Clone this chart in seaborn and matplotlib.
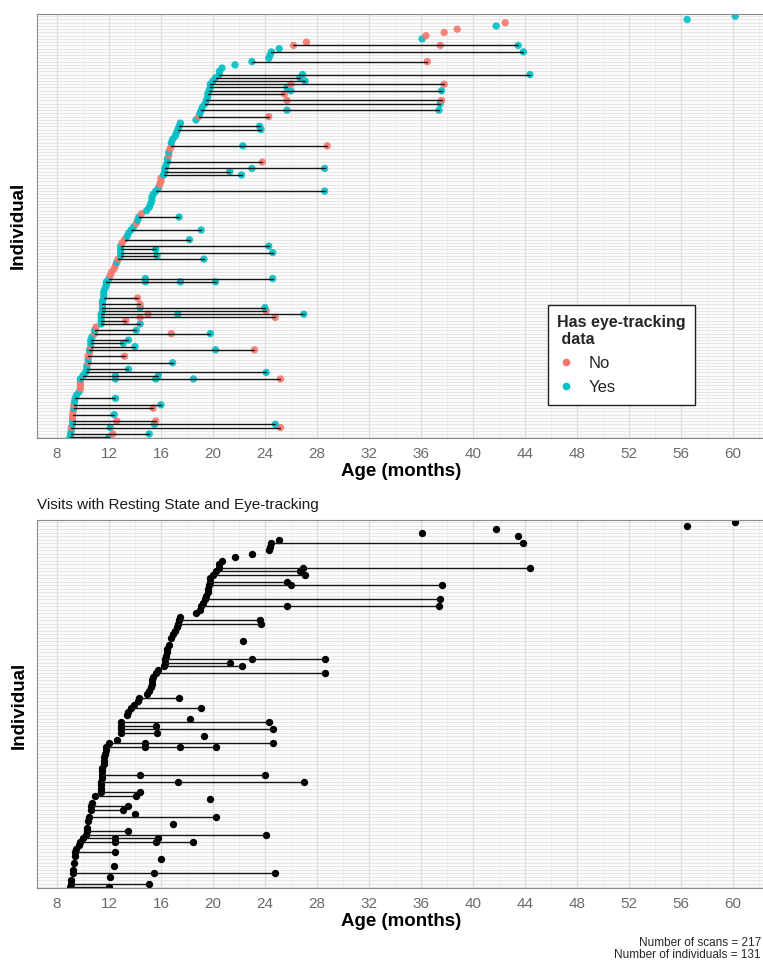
import numpy as np
import pandas as pd
import matplotlib
matplotlib.use("Agg")
import matplotlib.pyplot as plt
import seaborn as sns
from matplotlib.lines import Line2D

# ---- data: one entry per individual (bottom -> top), ages in months and eye-tracking flags ----
ages = [
    [9.0, 12.0], [9.05, 12.3, 15.1], [9.1], [9.1, 12.1, 25.2], [9.2, 15.5, 24.8],
    [9.2, 12.6, 15.6], [9.2], [9.2, 12.4], [9.25], [9.3, 15.4],
    [9.3, 16.0], [9.35], [9.4, 12.5], [9.5], [9.7],
    [9.8], [9.8], [9.8], [9.8, 12.5, 15.6, 18.5, 25.2], [10.0, 12.5, 15.8],
    [10.2, 24.1], [10.3, 13.5], [10.3], [10.4, 16.9], [10.4],
    [10.4, 13.2], [10.5], [10.5, 20.2, 23.2], [10.6, 14.0], [10.6, 13.1],
    [10.6, 13.5], [10.7], [10.9, 16.8, 19.8], [10.9, 14.1], [11.0],
    [11.4, 14.4], [11.4, 13.3], [11.4, 14.4, 24.8], [11.4, 15.0, 17.3, 27.0], [11.5, 24.1],
    [11.5, 14.4, 24.0], [11.5, 14.4], [11.5], [11.6, 14.2], [11.6],
    [11.6], [11.7], [11.8], [11.8, 14.8, 17.5, 20.2], [12.0, 14.8, 24.6],
    [12.1], [12.2], [12.4], [12.5], [12.6],
    [12.7, 19.3], [12.9, 15.7], [12.9, 24.6], [12.9, 15.6], [12.9, 24.3],
    [13.0], [13.2, 18.2], [13.4], [13.5], [13.7, 19.1],
    [13.9], [14.1], [14.2], [14.3, 17.4], [14.5],
    [14.9], [15.1], [15.2], [15.3], [15.3],
    [15.4], [15.6, 28.6], [15.8], [15.9], [16.0],
    [16.0], [16.2, 22.2], [16.3, 21.3], [16.3, 23.0, 28.6], [16.4],
    [16.5, 23.8], [16.5], [16.6], [16.6], [16.7],
    [16.8, 22.3, 28.8], [16.8], [16.9], [17.1], [17.2],
    [17.3, 23.7], [17.4, 23.6], [17.5], [18.7], [18.9, 24.3],
    [19.0], [19.1, 25.7, 37.4], [19.2], [19.4, 37.5], [19.5, 25.7, 37.6],
    [19.6], [19.6, 25.5], [19.7, 26.0, 37.6], [19.8, 25.7], [19.8, 26.0, 37.8],
    [20.0, 27.1], [20.2, 26.7], [20.5, 26.9, 44.4], [20.5], [20.7],
    [21.7], [23.0, 36.5], [24.3], [24.4], [24.5, 43.9],
    [25.1], [26.2, 37.5, 43.5], [27.2], [36.1], [36.4],
    [37.8], [38.8], [41.8], [42.5], [56.5],
    [60.2],
]
eyes = [
    "YY", "YNY", "Y", "NYN", "YYY",
    "YNN", "N", "NY", "N", "YN",
    "NY", "Y", "YY", "Y", "Y",
    "N", "N", "N", "YYYYN", "YYY",
    "YY", "YY", "Y", "NY", "Y",
    "NN", "N", "YYN", "NY", "YY",
    "YY", "Y", "NNY", "YY", "N",
    "YY", "YN", "YNN", "YNYY", "YN",
    "YYY", "YN", "Y", "YN", "Y",
    "Y", "Y", "Y", "YYYY", "YYY",
    "N", "N", "N", "N", "Y",
    "NY", "YY", "YY", "YY", "YY",
    "N", "NY", "Y", "Y", "YY",
    "Y", "N", "Y", "YY", "N",
    "Y", "Y", "Y", "Y", "Y",
    "Y", "YY", "Y", "N", "N",
    "N", "YY", "YY", "YYY", "Y",
    "YN", "Y", "N", "Y", "N",
    "NYN", "Y", "Y", "Y", "Y",
    "YY", "YY", "Y", "Y", "NN",
    "Y", "YYY", "Y", "YY", "YNN",
    "Y", "YN", "YYY", "YY", "YNN",
    "YY", "YY", "YYY", "Y", "Y",
    "Y", "YN", "Y", "Y", "YY",
    "Y", "NNY", "N", "Y", "N",
    "N", "N", "Y", "N", "Y",
    "Y",
]
x_ticks = [8, 12, 16, 20, 24, 28, 32, 36, 40, 44, 48, 52, 56, 60]
x_minor = [10, 14, 18, 22, 26, 30, 34, 38, 42, 46, 50, 54, 58, 62]
et_labels = ["No", "Yes"]
et_colors = ["#F8766D", "#00BFC4"]
legend_title = "Has eye-tracking\n data"
title_bottom = "Visits with Resting State and Eye-tracking"

# ---- build tables ----
recs = []
for i, (al, es) in enumerate(zip(ages, eyes)):
    for a, e in zip(al, es):
        recs.append({"id": i, "age": a, "et": "Yes" if e == "Y" else "No"})
df = pd.DataFrame(recs)
df["row"] = df["id"]
n_top = df["id"].nunique()

df_et = df[df["et"] == "Yes"].copy()
keep = sorted(df_et["id"].unique())
df_et["row"] = df_et["id"].map({k: j for j, k in enumerate(keep)})
n_bot = len(keep)

FONT = "Liberation Sans"
sns.set_style("white")
plt.rcParams["font.family"] = [FONT, "DejaVu Sans"]

W, H = 763, 960
fig = plt.figure(figsize=(W / 100, H / 100), dpi=100)

def px_axes(left, top, right, bottom):
    return fig.add_axes([left / W, 1 - bottom / H, (right - left) / W, (bottom - top) / H])

ax1 = px_axes(37, 14.3, 769, 438.2)
ax2 = px_axes(37, 520, 769, 888.3)

def style(ax, n):
    ax.set_xlim(6.46, 62.8)
    ax.set_ylim(-0.3, n - 0.4)
    ax.set_xticks(x_ticks)
    ax.set_xticks(x_minor, minor=True)
    ax.set_xticklabels([str(v) for v in x_ticks])
    ax.set_yticks(range(n))
    ax.set_yticklabels([])
    ax.set_xlabel("")
    ax.set_ylabel("")
    ax.set_facecolor("#FBFBFB")
    ax.grid(which="major", axis="x", color="#DADADA", lw=0.9, zorder=0)
    ax.grid(which="minor", axis="x", color="#EBEBEB", lw=0.6, zorder=0)
    ax.grid(which="major", axis="y", color="#E2E2E2", lw=0.6, zorder=0)
    ax.set_axisbelow(True)
    ax.tick_params(axis="x", which="major", length=4, width=0.8, color="#555555",
                   labelsize=11, labelcolor="#6B6B6B", pad=2.5)
    ax.tick_params(axis="x", which="minor", length=0)
    ax.tick_params(axis="y", which="major", length=3, width=0.5, color="#444444")
    for s in ["left", "top", "bottom"]:
        ax.spines[s].set_visible(True)
        ax.spines[s].set_color("#8A8A8A")
        ax.spines[s].set_linewidth(0.8)
    ax.spines["right"].set_visible(False)

# ---- top panel ----
sns.scatterplot(data=df, x="age", y="row", hue="et", hue_order=et_labels,
                palette=dict(zip(et_labels, et_colors)), s=28, linewidth=0,
                alpha=0.9, legend=False, ax=ax1, zorder=2)
sns.lineplot(data=df, x="age", y="row", units="id", estimator=None,
             color="#151515", lw=1.0, legend=False, ax=ax1, zorder=3)
style(ax1, n_top)

handles = [Line2D([], [], marker="o", ls="", color=c, markersize=4.5) for c in et_colors]
leg = ax1.legend(handles, et_labels, title=legend_title, loc="lower left",
                 bbox_to_anchor=((548 - 37) / 732, (438.2 - 404.5) / 423.9),
                 borderaxespad=0,
                 frameon=True, fancybox=False, framealpha=1, edgecolor="#222222",
                 fontsize=12, title_fontproperties={"weight": "bold", "size": 11.5, "family": FONT},
                 borderpad=0.55, labelspacing=0.55, handletextpad=0.9, handlelength=1.0)
leg.get_frame().set_linewidth(1.0)
leg._legend_box.align = "left"

# ---- bottom panel ----
sns.scatterplot(data=df_et, x="age", y="row", color="black", s=28, linewidth=0,
                legend=False, ax=ax2, zorder=2)
sns.lineplot(data=df_et, x="age", y="row", units="id", estimator=None,
             color="#151515", lw=1.0, legend=False, ax=ax2, zorder=3)
style(ax2, n_bot)

# ---- texts ----
lab = dict(fontsize=13.5, fontweight="bold", color="black", ha="center", va="center")
fig.text(18 / W, 1 - 225 / H, "Individual", rotation=90, **lab)
fig.text(19 / W, 1 - 705 / H, "Individual", rotation=90, **lab)
fig.text(401 / W, 1 - 471 / H, "Age (months)", **lab)
fig.text(401 / W, 1 - 921 / H, "Age (months)", **lab)
fig.text(37 / W, 1 - 505 / H, title_bottom, fontsize=11, color="#1A1A1A", ha="left", va="center")
fig.text(761 / W, 1 - 943 / H, f"Number of scans = {len(df)}", fontsize=8.5, ha="right", va="center")
fig.text(761 / W, 1 - 955 / H, f"Number of individuals = {n_top}", fontsize=8.5, ha="right", va="center")

fig.savefig("out.png", dpi=100)
print(len(df), n_top, n_bot)
